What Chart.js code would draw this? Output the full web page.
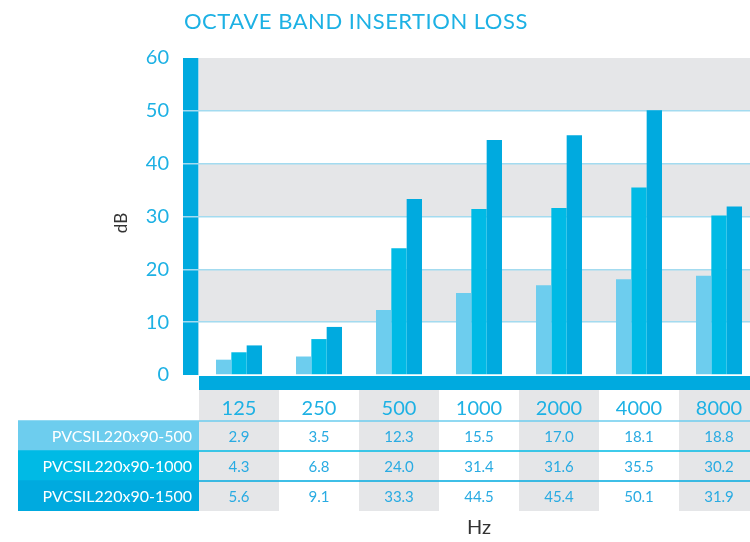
<!DOCTYPE html>
<html>
<head>
<meta charset="utf-8">
<title>Octave band insertion loss</title>
<script src="https://cdn.jsdelivr.net/npm/chart.js@4/dist/chart.umd.min.js"></script>
<style>
  html, body { margin: 0; padding: 0; background: #fff; }
  #wrap { position: relative; width: 750px; height: 542px; overflow: hidden; }
  canvas { display: block; }
</style>
</head>
<body>
<div id="wrap">
  <canvas id="chart" width="759" height="542"></canvas>
</div>
<script>
// octave band centre frequencies (Hz)
const categories = ['125', '250', '500', '1000', '2000', '4000', '8000'];
const seriesNames = ['PVCSIL220x90-500', 'PVCSIL220x90-1000', 'PVCSIL220x90-1500'];
const loss500 = [2.9, 3.5, 12.3, 15.5, 17.0, 18.1, 18.8];
const loss1000 = [4.3, 6.8, 24.0, 31.4, 31.6, 35.5, 30.2];
const loss1500 = [5.6, 9.1, 33.3, 44.5, 45.4, 50.1, 31.9];
const yTickValues = [0, 10, 20, 30, 40, 50, 60];

const FONT = 'Lato, "Open Sans", sans-serif';
const CYAN = '#1db1e4';
const DARK = '#00aadf';
const GRAY = '#e5e6e8';
const seriesColors = ['#6dcdee', '#00bae5', '#00aadf'];
const seriesData = [loss500, loss1000, loss1500];

// backgrounds: striped plot bands, axis bars, shaded table columns
const backdrop = {
  id: 'backdrop',
  beforeDraw(chart) {
    const { ctx, chartArea: a, scales: { x, y } } = chart;
    ctx.save();
    ctx.fillStyle = GRAY;
    for (let i = 1; i < yTickValues.length; i += 2) {
      const top = y.getPixelForValue(yTickValues[i + 1]);
      const bot = y.getPixelForValue(yTickValues[i]);
      ctx.fillRect(a.left, top, a.right - a.left, bot - top);
    }
    // shaded columns under the axis (header row + table)
    const colW = x.getPixelForValue(1) - x.getPixelForValue(0);
    categories.forEach((c, i) => {
      if (i % 2) return;
      const cx = x.getPixelForValue(i);
      ctx.fillRect(cx - colW / 2, a.bottom + 15, colW, 121);
    });
    // thick left axis bar and bottom axis band
    ctx.fillStyle = DARK;
    ctx.fillRect(a.left - 16, a.top, 15, a.bottom - a.top);
    ctx.fillRect(a.left, a.bottom + 1, a.right - a.left, 14);
    ctx.fillStyle = '#9fd9ef';
    ctx.fillRect(a.left - 1, a.top, 1, a.bottom - a.top);
    ctx.restore();
  },
  afterDraw(chart) {
    const { ctx, chartArea: a, scales: { x } } = chart;
    ctx.save();
    // title
    ctx.fillStyle = CYAN;
    ctx.font = '22px ' + FONT;
    ctx.letterSpacing = '0.5px';
    ctx.textAlign = 'left';
    ctx.textBaseline = 'alphabetic';
    ctx.fillText('OCTAVE BAND INSERTION LOSS', 184, 29);
    ctx.letterSpacing = '0px';

    // data table
    const rowTop = a.bottom + 46;
    const rowH = 30;
    const labelLeft = 18;
    seriesNames.forEach((name, r) => {
      const top = rowTop + r * rowH;
      ctx.fillStyle = seriesColors[r];
      ctx.fillRect(labelLeft, top, a.left - labelLeft, rowH);
      ctx.fillRect(labelLeft, top - 0.75, a.right - labelLeft, 1.5);
      ctx.fillStyle = '#fff';
      ctx.font = '16px ' + FONT;
      ctx.textAlign = 'right';
      ctx.textBaseline = 'middle';
      ctx.fillText(name, a.left - 7, top + rowH / 2 + 1);
      ctx.fillStyle = '#29abe2';
      ctx.font = '15px ' + FONT;
      ctx.textAlign = 'center';
      seriesData[r].forEach((v, i) => {
        ctx.fillText(v.toFixed(1), x.getPixelForValue(i), top + rowH / 2 + 1);
      });
    });

    // axis titles
    ctx.fillStyle = '#333';
    ctx.font = '20px ' + FONT;
    ctx.textAlign = 'center';
    ctx.textBaseline = 'middle';
    ctx.fillText('Hz', (a.left + a.right) / 2, 528);
    ctx.translate(122, 223);
    ctx.rotate(-Math.PI / 2);
    ctx.font = '17px ' + FONT;
    ctx.fillText('dB', 0, 0);
    ctx.restore();
  }
};

new Chart(document.getElementById('chart'), {
  type: 'bar',
  data: {
    labels: categories,
    datasets: seriesNames.map((name, i) => ({
      label: name,
      data: seriesData[i],
      backgroundColor: seriesColors[i],
      borderWidth: 0,
      categoryPercentage: 0.575,
      barPercentage: 1
    }))
  },
  options: {
    responsive: false,
    animation: false,
    layout: { padding: { top: 58, left: 0, right: 0, bottom: 0 } },
    plugins: {
      legend: { display: false },
      tooltip: { enabled: false },
      title: { display: false }
    },
    scales: {
      x: {
        afterFit: s => { s.height = 167; },
        grid: { display: false },
        border: { display: false },
        ticks: {
          color: CYAN,
          font: { family: FONT, size: 20 },
          padding: 14,
          maxRotation: 0
        }
      },
      y: {
        min: 0,
        max: 60,
        afterFit: s => { s.width = 199; },
        afterBuildTicks: s => { s.ticks = yTickValues.map(v => ({ value: v })); },
        border: { display: false },
        grid: {
          color: c => (c.tick && (c.tick.value === 0 || c.tick.value === 60)) ? 'rgba(0,0,0,0)' : '#a3dbf0',
          lineWidth: 1.5,
          tickLength: 16,
          drawTicks: true
        },
        ticks: {
          color: CYAN,
          font: { family: FONT, size: 20 },
          padding: 14
        }
      }
    }
  },
  plugins: [backdrop]
});
</script>
</body>
</html>
